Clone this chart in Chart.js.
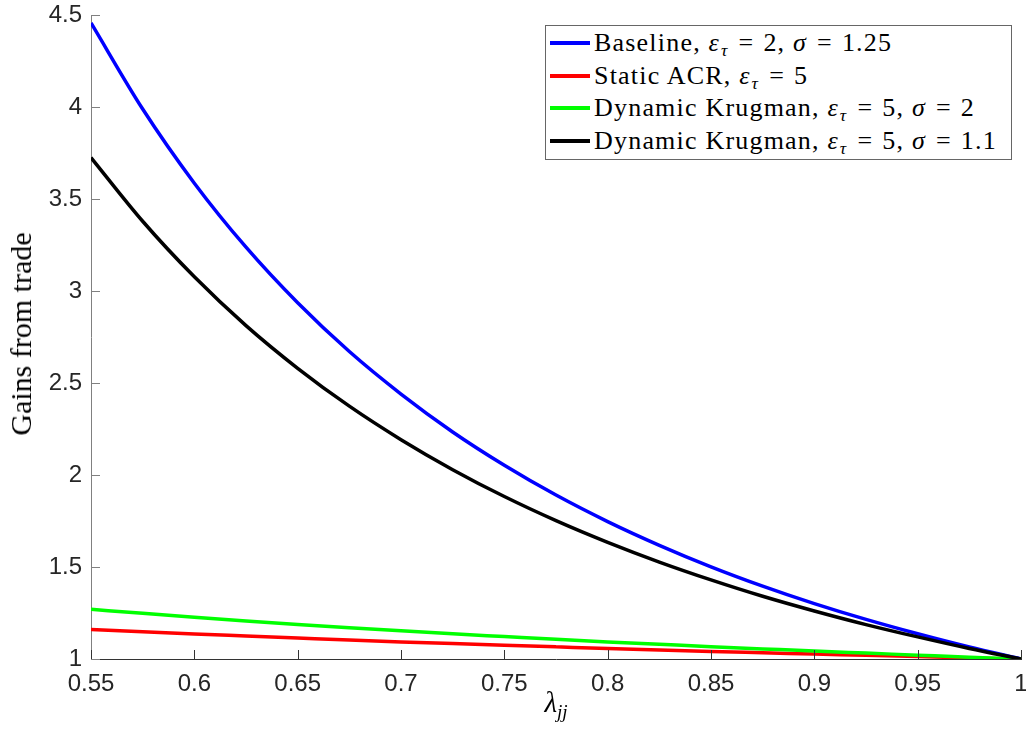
<!DOCTYPE html>
<html>
<head>
<meta charset="utf-8">
<title>Gains from trade</title>
<script src="https://cdn.jsdelivr.net/npm/chart.js@4.4.1/dist/chart.umd.min.js"></script>
<style>
  body { margin: 0; background: #fff; }
  #wrap { position: relative; width: 1026px; height: 738px; }
  #legend {
    position: absolute; left: 545px; top: 25px; width: 465px; height: 133px;
    border: 1px solid #666; background: #fff;
    font-family: "Liberation Serif", serif; font-size: 26px; color: #000;
    letter-spacing: 1.2px;
  }
  .row { position: absolute; left: 0; height: 33px; line-height: 33px; white-space: nowrap; }
  .swatch { position: absolute; left: 4px; top: 15px; width: 40px; height: 4px; }
  .lab { position: absolute; left: 48px; top: 0; }
  .lab i { font-style: italic; margin-right: 1px; }
  .lab sub { font-size: 0.68em; vertical-align: -0.3em; line-height: 0; }
  .lab .eq { margin: 0 9px; }
  .axtitle { position: absolute; font-family: "Liberation Serif", serif; color: #000; white-space: nowrap; }
  #ytitle { left: 21px; top: 334px; font-size: 30px; transform: translate(-50%, -50%) rotate(-90deg); }
  #xtitle { left: 556px; top: 702px; font-size: 29px; transform: translate(-50%, -50%); }
  #xtitle sub { font-size: 0.66em; vertical-align: -0.35em; line-height: 0; }
</style>
</head>
<body>
<div id="wrap">
  <canvas id="chart" width="1026" height="738"></canvas>
  <div id="legend"></div>
  <div class="axtitle" id="ytitle">Gains from trade</div>
  <div class="axtitle" id="xtitle"><i>λ</i><sub><i>jj</i></sub></div>
</div>
<script>
// lambda_jj (share of domestic expenditure)
const lambda = [0.55, 0.575, 0.6, 0.625, 0.65, 0.675, 0.7, 0.725, 0.75, 0.775,
                0.8, 0.825, 0.85, 0.875, 0.9, 0.925, 0.95, 0.975, 1];

const baseline = [4.457, 3.989, 3.586, 3.238, 2.936, 2.671, 2.440, 2.234, 2.053, 1.891,
                  1.747, 1.618, 1.501, 1.396, 1.301, 1.215, 1.137, 1.065, 1];
const staticAcr = [1.161, 1.148, 1.136, 1.125, 1.114, 1.103, 1.093, 1.084, 1.075, 1.066,
                   1.057, 1.049, 1.041, 1.034, 1.027, 1.020, 1.013, 1.006, 1];
const krugman2 = [1.270, 1.248, 1.227, 1.207, 1.188, 1.170, 1.153, 1.137, 1.122, 1.107,
                  1.093, 1.080, 1.067, 1.055, 1.043, 1.032, 1.021, 1.010, 1];
const krugman11 = [3.725, 3.379, 3.077, 2.812, 2.580, 2.374, 2.192, 2.029, 1.883, 1.752,
                   1.634, 1.527, 1.430, 1.341, 1.261, 1.187, 1.120, 1.057, 1];

const seriesNames = [
  'Baseline, ετ = 2, σ = 1.25',
  'Static ACR, ετ = 5',
  'Dynamic Krugman, ετ = 5, σ = 2',
  'Dynamic Krugman, ετ = 5, σ = 1.1'
];
const eps = '<i>ε</i><sub><i>τ</i></sub>';
const eq = '<span class="eq">=</span>';
const seriesHtml = [
  'Baseline, ' + eps + eq + '2, <i>σ</i>' + eq + '1.25',
  'Static ACR, ' + eps + eq + '5',
  'Dynamic Krugman, ' + eps + eq + '5, <i>σ</i>' + eq + '2',
  'Dynamic Krugman, ' + eps + eq + '5, <i>σ</i>' + eq + '1.1'
];
const seriesColors = ['#0000ff', '#ff0000', '#00ff00', '#000000'];

const xTicks = [0.55, 0.6, 0.65, 0.7, 0.75, 0.8, 0.85, 0.9, 0.95, 1];
const yTicks = [1, 1.5, 2, 2.5, 3, 3.5, 4, 4.5];

const toPoints = ys => lambda.map((x, i) => ({ x: x, y: ys[i] }));
const allSeries = [baseline, staticAcr, krugman2, krugman11];

const datasets = allSeries.map((ys, i) => ({
  label: seriesNames[i],
  data: toPoints(ys),
  borderColor: seriesColors[i],
  backgroundColor: seriesColors[i],
  borderWidth: 3.5,
  pointRadius: 0,
  fill: false,
  cubicInterpolationMode: 'monotone',
  order: allSeries.length - i   // later series drawn on top, like MATLAB
}));

// MATLAB style tick marks pointing into the axes
const innerTicks = {
  id: 'innerTicks',
  afterDraw(chart) {
    const { ctx, chartArea } = chart;
    const xs = chart.scales.x, ys = chart.scales.y;
    ctx.save();
    ctx.lineWidth = 1;
    ctx.strokeStyle = '#333';
    xTicks.forEach(v => {
      const px = Math.round(xs.getPixelForValue(v)) + 0.5;
      ctx.beginPath();
      ctx.moveTo(px, chartArea.bottom);
      ctx.lineTo(px, chartArea.bottom - 9);
      ctx.stroke();
    });
    ctx.strokeStyle = '#808080';
    yTicks.forEach(v => {
      const py = Math.round(ys.getPixelForValue(v)) + 0.5;
      ctx.beginPath();
      ctx.moveTo(chartArea.left, py);
      ctx.lineTo(chartArea.left + 9, py);
      ctx.stroke();
    });
    ctx.restore();
  }
};

const tickFont = { family: "'Liberation Sans', Arial, sans-serif", size: 24 };
const fmt = v => String(+Number(v).toFixed(2));

new Chart(document.getElementById('chart').getContext('2d'), {
  type: 'line',
  data: { datasets: datasets },
  options: {
    responsive: false,
    animation: false,
    layout: { padding: { top: 15, right: 5, left: 0, bottom: 0 } },
    plugins: { legend: { display: false }, tooltip: { enabled: false } },
    scales: {
      x: {
        type: 'linear', min: 0.55, max: 1,
        grid: { display: false, drawTicks: false },
        border: { display: true, color: '#333', width: 1 },
        ticks: { font: tickFont, color: '#262626', padding: 11, maxRotation: 0, autoSkip: false, callback: fmt },
        afterBuildTicks: s => { s.ticks = xTicks.map(v => ({ value: v })); },
        afterFit: s => { s.height = 79; s.paddingLeft = 0; s.paddingRight = 0; }
      },
      y: {
        type: 'linear', min: 1, max: 4.5,
        grid: { display: false, drawTicks: false },
        border: { display: true, color: '#808080', width: 1 },
        ticks: { font: tickFont, color: '#262626', padding: 9, autoSkip: false, callback: fmt },
        afterBuildTicks: s => { s.ticks = yTicks.map(v => ({ value: v })); },
        afterFit: s => { s.width = 91; s.paddingTop = 0; s.paddingBottom = 0; }
      }
    }
  },
  plugins: [innerTicks]
});

// legend box
const legend = document.getElementById('legend');
const rowCenters = [17, 50, 82, 115];
seriesHtml.forEach((html, i) => {
  const row = document.createElement('div');
  row.className = 'row';
  row.style.top = (rowCenters[i] - 17) + 'px';
  row.innerHTML = '<span class="swatch" style="background:' + seriesColors[i] + '"></span>' +
                  '<span class="lab">' + html + '</span>';
  legend.appendChild(row);
});
</script>
</body>
</html>
